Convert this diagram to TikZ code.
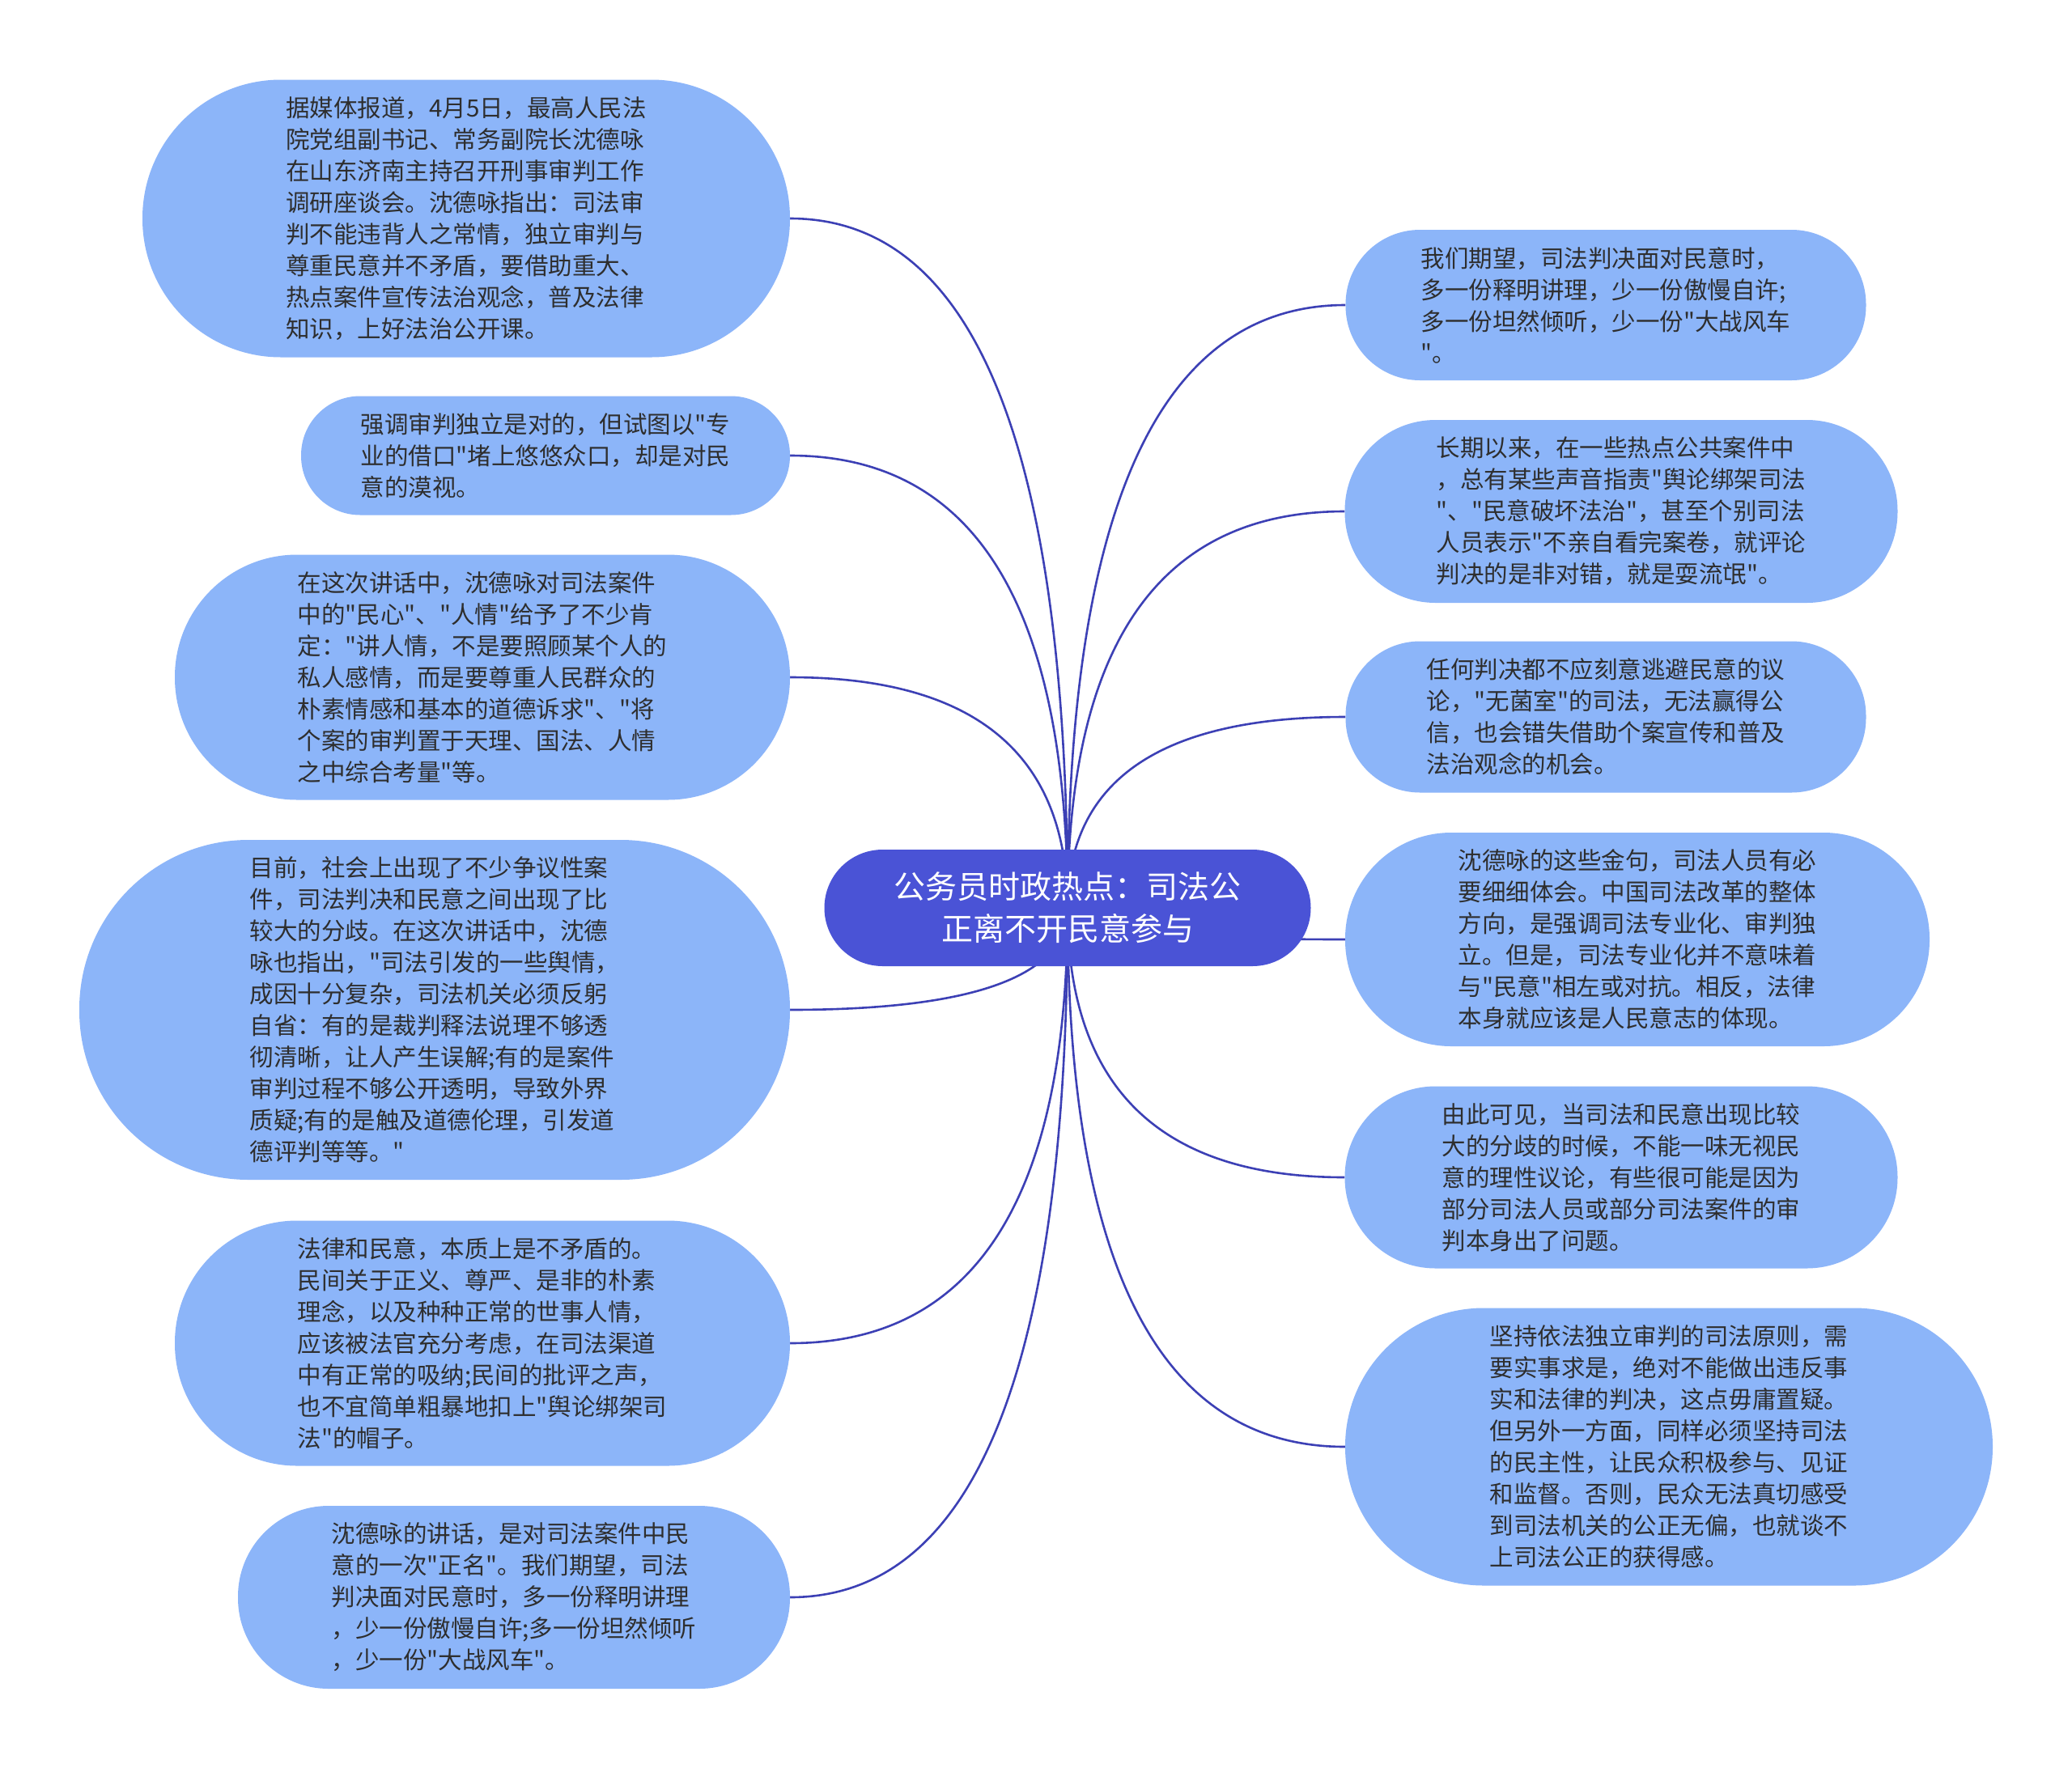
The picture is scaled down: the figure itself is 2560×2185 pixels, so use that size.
\documentclass[tikz,border=0pt]{standalone}
\usepackage{fontspec}
\newfontfamily\cjkfont{Noto Sans CJK SC}
\usepackage{xcolor}
\definecolor{leafblue}{HTML}{8CB5F9}
\definecolor{rootblue}{HTML}{4A53D6}
\definecolor{linkblue}{HTML}{3C40B5}
\definecolor{inkgray}{HTML}{2E2E2E}
\usetikzlibrary{calc, backgrounds}

\begin{document}
\begin{tikzpicture}[
    x=1pt, y=-1pt,
    leaf/.style={rectangle, fill=leafblue, text=inkgray, align=left, inner sep=0pt,
        font=\cjkfont\fontsize{29.5}{39}\selectfont},
    size/.style n args={3}{minimum width=#1pt, minimum height=#2pt, rounded corners=#3pt},
    rootbox/.style={rectangle, fill=rootblue, text=white, align=center, inner sep=0pt,
        font=\cjkfont\fontsize{39}{52}\selectfont},
    link/.style={draw=linkblue, line width=2.6pt}
]
\useasboundingbox (0,0) rectangle (2560,2185);

% centre topic
\node[rootbox, size={601}{144}{72}] (root) at (1319,1122) {公务员时政热点：司法公\\正离不开民意参与};

% left branches
\node[leaf, size={800}{343}{171}] (l1) at (576,270) {据媒体报道，4月5日，最高人民法\\院党组副书记、常务副院长沈德咏\\在山东济南主持召开刑事审判工作\\调研座谈会。沈德咏指出：司法审\\判不能违背人之常情，独立审判与\\尊重民意并不矛盾，要借助重大、\\热点案件宣传法治观念，普及法律\\知识，上好法治公开课。};
\node[leaf, size={604}{147}{73}] (l2) at (674,563) {强调审判独立是对的，但试图以"专\\业的借口"堵上悠悠众口，却是对民\\意的漠视。};
\node[leaf, size={760}{303}{151}] (l3) at (596,837) {在这次讲话中，沈德咏对司法案件\\中的"民心"、"人情"给予了不少肯\\定："讲人情，不是要照顾某个人的\\私人感情，而是要尊重人民群众的\\朴素情感和基本的道德诉求"、"将\\个案的审判置于天理、国法、人情\\之中综合考量"等。};
\node[leaf, size={878}{420}{209}] (l4) at (537,1248) {目前，社会上出现了不少争议性案\\件，司法判决和民意之间出现了比\\较大的分歧。在这次讲话中，沈德\\咏也指出，"司法引发的一些舆情，\\成因十分复杂，司法机关必须反躬\\自省：有的是裁判释法说理不够透\\彻清晰，让人产生误解;有的是案件\\审判过程不够公开透明，导致外界\\质疑;有的是触及道德伦理，引发道\\德评判等等。"};
\node[leaf, size={760}{303}{151}] (l5) at (596,1660) {法律和民意，本质上是不矛盾的。\\民间关于正义、尊严、是非的朴素\\理念，以及种种正常的世事人情，\\应该被法官充分考虑，在司法渠道\\中有正常的吸纳;民间的批评之声，\\也不宜简单粗暴地扣上"舆论绑架司\\法"的帽子。};
\node[leaf, size={682}{226}{112}] (l6) at (635,1974) {沈德咏的讲话，是对司法案件中民\\意的一次"正名"。我们期望，司法\\判决面对民意时，多一份释明讲理\\，少一份傲慢自许;多一份坦然倾听\\，少一份"大战风车"。};

% right branches
\node[leaf, size={643}{186}{92}] (r1) at (1984,377) {我们期望，司法判决面对民意时，\\多一份释明讲理，少一份傲慢自许;\\多一份坦然倾听，少一份"大战风车\\"。};
\node[leaf, size={683}{226}{112}] (r2) at (2003,632) {长期以来，在一些热点公共案件中\\，总有某些声音指责"舆论绑架司法\\"、"民意破坏法治"，甚至个别司法\\人员表示"不亲自看完案卷，就评论\\判决的是非对错，就是耍流氓"。};
\node[leaf, size={643}{187}{92}] (r3) at (1984,886) {任何判决都不应刻意逃避民意的议\\论，"无菌室"的司法，无法赢得公\\信，也会错失借助个案宣传和普及\\法治观念的机会。};
\node[leaf, size={722}{264}{131}] (r4) at (2023,1161) {沈德咏的这些金句，司法人员有必\\要细细体会。中国司法改革的整体\\方向，是强调司法专业化、审判独\\立。但是，司法专业化并不意味着\\与"民意"相左或对抗。相反，法律\\本身就应该是人民意志的体现。};
\node[leaf, size={683}{225}{112}] (r5) at (2003,1455) {由此可见，当司法和民意出现比较\\大的分歧的时候，不能一味无视民\\意的理性议论，有些很可能是因为\\部分司法人员或部分司法案件的审\\判本身出了问题。};
\node[leaf, size={800}{343}{171}] (r6) at (2062,1788) {坚持依法独立审判的司法原则，需\\要实事求是，绝对不能做出违反事\\实和法律的判决，这点毋庸置疑。\\但另外一方面，同样必须坚持司法\\的民主性，让民众积极参与、见证\\和监督。否则，民众无法真切感受\\到司法机关的公正无偏，也就谈不\\上司法公正的获得感。};

\begin{scope}[on background layer]
\fill[white] (0,0) rectangle (2560,2185);
\foreach \n in {l1,l2,l3,l4,l5,l6}
    \draw[link] (root.center) .. controls ($(root.center)!2/3!(root.center |- \n.east)$) and ($(\n.east)!2/3!(root.center |- \n.east)$) .. (\n.east);
\foreach \n in {r1,r2,r3,r4,r5,r6}
    \draw[link] (root.center) .. controls ($(root.center)!2/3!(root.center |- \n.west)$) and ($(\n.west)!2/3!(root.center |- \n.west)$) .. (\n.west);
\end{scope}
\end{tikzpicture}
\end{document}
